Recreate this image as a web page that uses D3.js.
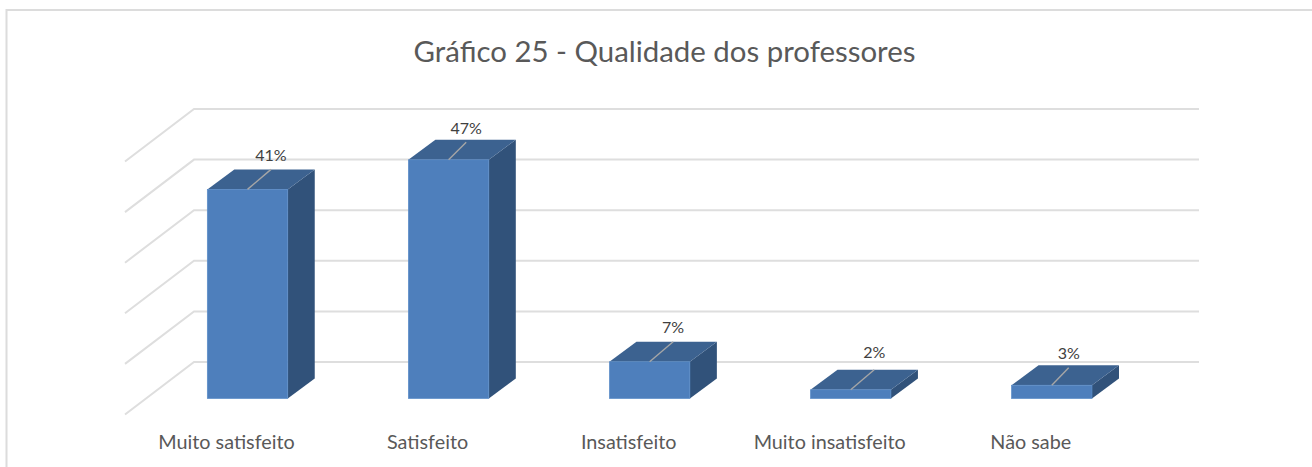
<!DOCTYPE html>
<html><head><meta charset="utf-8">
<script src="https://cdn.jsdelivr.net/npm/d3@7/dist/d3.min.js"></script>
<style>html,body{margin:0;background:#fff}svg{display:block}text{font-family:Lato,sans-serif}</style>
</head><body><svg id="c" width="1312" height="467"></svg>
<script>
const titleText = "Gráfico 25 - Qualidade dos professores";
const categories = ["Muito satisfeito","Satisfeito","Insatisfeito","Muito insatisfeito","Não sabe"];
const values = [41.0,46.8,7.2,1.7,2.6];
const labels = ["41%","47%","7%","2%","3%"];
const gridTicks = [0,10,20,30,40,50];
const leaderReach = [1,0.75,1,1,0.72];
const labelLift = [0,0,0,3,0];

const svg = d3.select("#c");
const x = d3.scaleBand().domain(categories).range([147,1152.3]).paddingInner(0.6).paddingOuter(0.3);
const h = d3.scaleLinear().domain([0,50]).range([0,253]);
const yFront = d3.scaleLinear().domain([0,50]).range([398.5,398.5-255]);
const depthX = d3.scaleLinear().domain([0,1]).range([0,27]);
const depthY = d3.scaleLinear().domain([0,1]).range([0,-20]);
const yBack = v => 362 - h(v);

// chart frame
svg.append("path").attr("d","M6.5,467V10H1312").attr("fill","none").attr("stroke","#dcdcdc").attr("stroke-width",2);

// walls
const grid = svg.append("g").attr("fill","none").attr("stroke","#dedede").attr("stroke-width",2);
grid.selectAll("path").data(gridTicks).join("path")
  .attr("d",v=>`M125,${yBack(v)+52.5}L194,${yBack(v)}H1199`);

// bars
const bars = svg.append("g").selectAll("g").data(categories).join("g");
const w = x.bandwidth();
const X = d=>x(d), Y = (d,i)=>yFront(values[i]);
const dx = depthX(1), dy = depthY(1);
bars.append("path").attr("fill","#31527a")
  .attr("d",(d,i)=>`M${X(d)+w},${Y(d,i)}l${dx},${dy}V${yFront(0)+dy}l${-dx},${-dy}Z`);
bars.append("path").attr("fill","#3c6290")
  .attr("d",(d,i)=>`M${X(d)},${Y(d,i)}l${dx},${dy}h${w}l${-dx},${-dy}Z`);
bars.append("rect").attr("fill","#4e7fbc").attr("stroke","#5a8cc8").attr("stroke-width",0.7)
  .attr("x",d=>X(d)).attr("y",(d,i)=>Y(d,i)).attr("width",w).attr("height",(d,i)=>yFront(0)-Y(d,i));

// leader lines and value labels
const lx = (d,i)=>X(d)+w/2+dx*0.87*leaderReach[i];
const ly = (d,i)=>Y(d,i)+dy*(leaderReach[i]<1?0.88:1);
bars.append("line").attr("stroke","#a6a6a6").attr("stroke-width",1.4)
  .attr("x1",d=>X(d)+w/2).attr("y1",(d,i)=>Y(d,i)).attr("x2",lx).attr("y2",ly);
bars.append("text").attr("text-anchor","middle").attr("font-size",16).attr("fill","#404040")
  .attr("x",lx).attr("y",(d,i)=>ly(d,i)-8.5-labelLift[i]).text((d,i)=>labels[i]);

// category labels
svg.append("g").selectAll("text").data(categories).join("text")
  .attr("text-anchor","middle").attr("font-size",19.8).attr("fill","#595959")
  .attr("x",d=>X(d)+w/2-21).attr("y",449).text(d=>d);

// title
svg.append("text").attr("x",664.5).attr("y",62).attr("text-anchor","middle")
  .attr("font-size",29.4).attr("fill","#595959").text(titleText);
</script></body></html>
